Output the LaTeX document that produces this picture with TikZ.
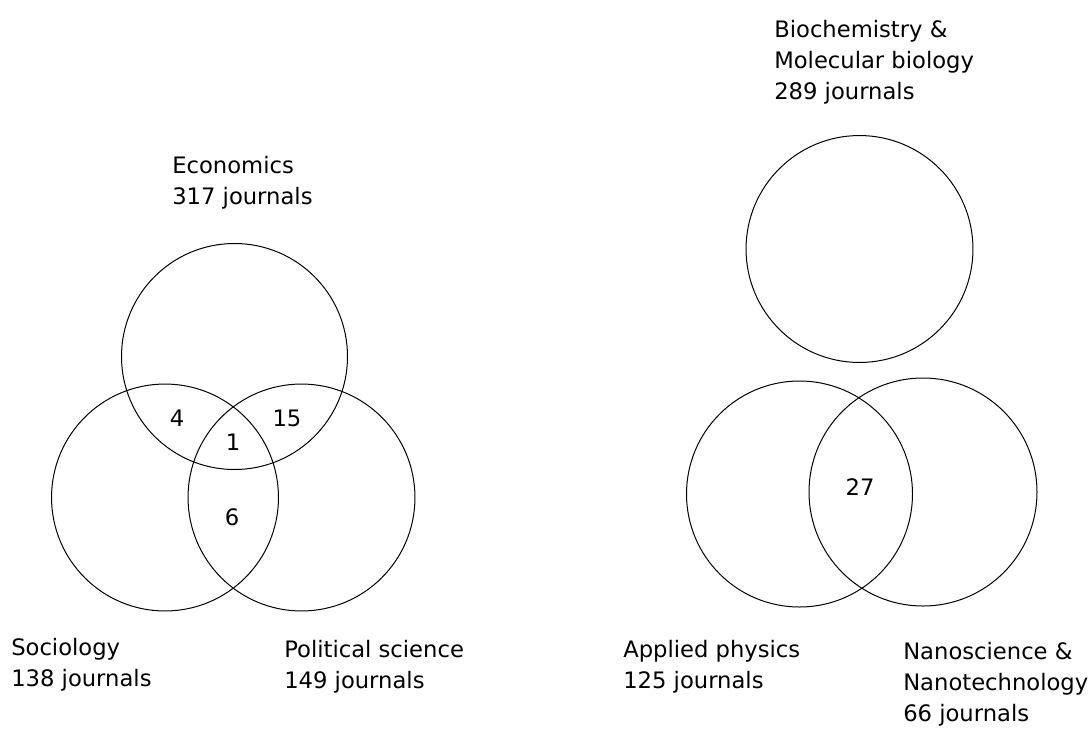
\documentclass[tikz,border=0pt]{standalone}
\usepackage{fontspec}
\setmainfont{DejaVu Sans}
\begin{document}
\begin{tikzpicture}[x=0.75pt,y=-0.75pt,
    set/.style={line width=0.75pt},
    lbl/.style={anchor=base west,align=left,inner sep=0pt},
    cnt/.style={inner sep=0pt},
    font=\fontsize{17}{23.25}\selectfont]
    \useasboundingbox (0,0) rectangle (1091,729);
    % left: three fields (labels placed by their last line)
    \draw[set] (234.5,356.5) circle[radius=84.75pt];
    \draw[set] (165,497.5) circle[radius=85.1pt];
    \draw[set] (301.5,497.5) circle[radius=85.1pt];
    \node[lbl] (econ) at (172,204.5) {Economics\\317 journals};
    \node[lbl] (soc) at (11,686) {Sociology\\138 journals};
    \node[lbl] (pol) at (284,688) {Political science\\149 journals};
    \node[cnt] (es) at (177,418) {4};
    \node[cnt] (esp) at (233,442) {1};
    \node[cnt] (ep) at (287,418) {15};
    \node[cnt] (sp) at (232,517) {6};
    % right: three fields
    \draw[set] (859.5,249) circle[radius=85.1pt];
    \draw[set] (799.5,494) circle[radius=84.75pt];
    \draw[set] (923,492) circle[radius=85.5pt];
    \node[lbl] (bio) at (774,99.5) {Biochemistry \&\\Molecular biology\\289 journals};
    \node[lbl] (app) at (623,688) {Applied physics\\125 journals};
    \node[lbl] (nano) at (903,721.5) {Nanoscience \&\\Nanotechnology\\66 journals};
    \node[cnt] (an) at (860,487) {27};
\end{tikzpicture}
\end{document}
